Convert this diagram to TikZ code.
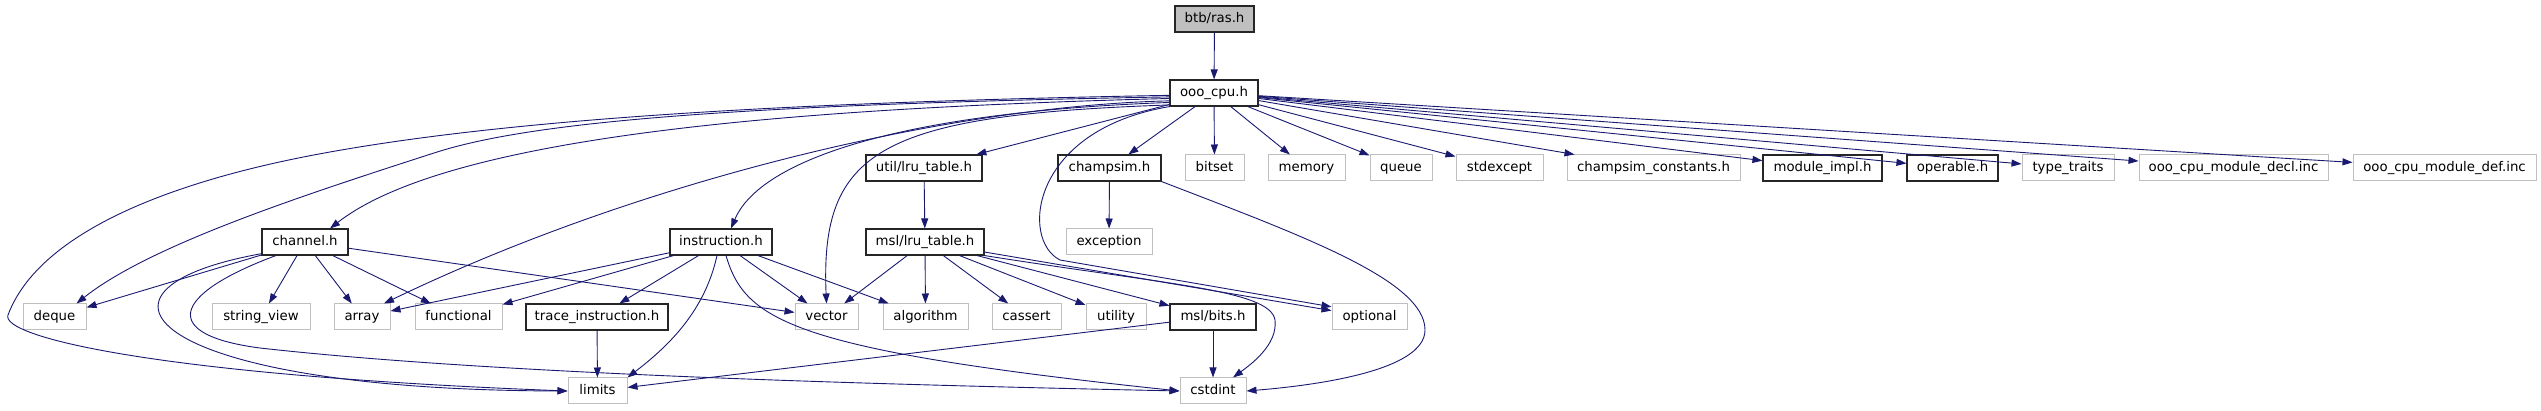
\documentclass[tikz,border=0pt]{standalone}
\usepackage{fontspec}
\setmainfont{DejaVu Sans}
\usepackage{xcolor}
\usetikzlibrary{arrows.meta}

\definecolor{incblue}{HTML}{191970}

\begin{document}
\begin{tikzpicture}[x=1pt, y=-1pt,
      hdr/.style={draw=black!85, line width=1.1pt, fill=white, inner sep=0pt,
                  minimum height=26pt, text height=10pt, text depth=3pt,
                  font=\fontsize{13.3}{16}\selectfont},
      sys/.style={hdr, draw=black!25, line width=1pt},
      root/.style={hdr, fill=black!25},
      inc/.style={-{Triangle[length=10pt,width=7pt]}, line width=0.9pt, incblue}]
    \useasboundingbox (0,0) rectangle (2541,411);
    % top
    \node[root, minimum width=79pt] (ras) at (1214.5,19) {btb/ras.h};
    \node[hdr, minimum width=88pt] (ooo) at (1214,93) {ooo\_cpu.h};
    % direct includes of ooo_cpu.h
    \node[hdr, minimum width=116pt] (ulru) at (924,168) {util/lru\_table.h};
    \node[hdr, minimum width=103pt] (champ) at (1109.5,168) {champsim.h};
    \node[sys, minimum width=59pt] (bset) at (1214.5,168) {bitset};
    \node[sys, minimum width=77pt] (mem) at (1306.5,168) {memory};
    \node[sys, minimum width=62pt] (que) at (1401,168) {queue};
    \node[sys, minimum width=87pt] (sexc) at (1499.5,168) {stdexcept};
    \node[sys, minimum width=173pt] (cconst) at (1653.5,168) {champsim\_constants.h};
    \node[hdr, minimum width=119pt] (modimpl) at (1822.5,168) {module\_impl.h};
    \node[hdr, minimum width=91pt] (oper) at (1952.5,168) {operable.h};
    \node[sys, minimum width=92pt] (ttr) at (2068,168) {type\_traits};
    \node[sys, minimum width=189pt] (mdecl) at (2233.5,168) {ooo\_cpu\_module\_decl.inc};
    \node[sys, minimum width=183pt] (mdef) at (2444.5,168) {ooo\_cpu\_module\_def.inc};
    % second level
    \node[hdr, minimum width=86pt] (chan) at (305,242) {channel.h};
    \node[hdr, minimum width=102pt] (instr) at (721,242) {instruction.h};
    \node[hdr, minimum width=118pt] (mlru) at (925,242) {msl/lru\_table.h};
    \node[sys, minimum width=86pt] (exc) at (1109,242) {exception};
    % third level
    \node[sys, minimum width=63pt] (deq) at (54.5,317) {deque};
    \node[sys, minimum width=98pt] (sview) at (261,317) {string\_view};
    \node[sys, minimum width=56pt] (arr) at (362,317) {array};
    \node[sys, minimum width=87pt] (func) at (458.5,317) {functional};
    \node[hdr, minimum width=142pt] (trace) at (597,317) {trace\_instruction.h};
    \node[sys, minimum width=63pt] (vec) at (826.5,317) {vector};
    \node[sys, minimum width=85pt] (alg) at (925.5,317) {algorithm};
    \node[sys, minimum width=69pt] (cas) at (1026.5,317) {cassert};
    \node[sys, minimum width=60pt] (uti) at (1116,317) {utility};
    \node[hdr, minimum width=86pt] (mbits) at (1213,317) {msl/bits.h};
    \node[sys, minimum width=75pt] (opt) at (1369.5,317) {optional};
    % bottom
    \node[sys, minimum width=59pt] (lim) at (597.5,391) {limits};
    \node[sys, minimum width=66pt] (cstd) at (1213,391) {cstdint};

    % edges from the top
    \draw[inc] (ras) -- (ooo);
    \foreach \t in {ulru, champ, bset, mem, que, sexc, cconst, modimpl, oper, ttr, mdecl, mdef}
      \draw[inc] (ooo) -- (\t);
    \draw[inc] (ooo.183) .. controls (800,102) and (520,118) .. (330,152)
      .. controls (178,179) and (40,230) .. (8,315)
      .. controls (0,336) and (150,375) .. (lim.west);
    \draw[inc] (ooo.185) .. controls (700,105) and (520,125) .. (434,153)
      .. controls (304,195) and (150,245) .. ([xshift=22pt]deq.north);
    \draw[inc] (ooo.187) .. controls (800,108) and (450,135) .. ([xshift=25pt]chan.north);
    \draw[inc] (ooo.190) .. controls (950,106) and (640,180) .. ([xshift=22pt]arr.north);
    \draw[inc] (ooo.192) .. controls (900,112) and (760,160) .. ([xshift=10pt]instr.north);
    \draw[inc] (ooo.195) .. controls (880,115) and (820,150) .. (vec.north);
    \draw[inc] (ooo.197) .. controls (1030,130) and (1020,240) .. (1060,260) -- (opt.165);
    % channel.h
    \foreach \t in {deq, sview, arr, func, vec}
      \draw[inc] (chan) -- (\t);
    \draw[inc] (chan.195) .. controls (60,290) and (150,390) .. (lim.west);
    \draw[inc] (chan.205) .. controls (170,295) and (160,335) .. (260,348)
      .. controls (500,375) and (900,385) .. (cstd.west);
    % instruction.h
    \foreach \t in {arr, func, trace, vec, alg}
      \draw[inc] (instr) -- (\t);
    \draw[inc] ([xshift=-4pt]instr.south) .. controls (705,310) and (670,345) .. (lim.north east);
    \draw[inc] ([xshift=5pt]instr.south) .. controls (745,320) and (790,350) .. (cstd.west);
    % lru tables
    \draw[inc] (ulru) -- (mlru);
    \foreach \t in {vec, alg, cas, uti, mbits, opt}
      \draw[inc] (mlru) -- (\t);
    \draw[inc] (mlru.south east) .. controls (1170,285) and (1270,290) .. (1275,320)
      .. controls (1278,345) and (1250,365) .. ([xshift=20pt]cstd.north);
    % champsim.h
    \draw[inc] (champ) -- (exc);
    \draw[inc] (champ.south east) .. controls (1300,235) and (1425,280) .. (1425,330)
      .. controls (1425,370) and (1320,385) .. (cstd.east);
    % bottom row
    \draw[inc] (trace) -- (lim);
    \draw[inc] (mbits) -- (lim);
    \draw[inc] (mbits) -- (cstd);
\end{tikzpicture}
\end{document}
